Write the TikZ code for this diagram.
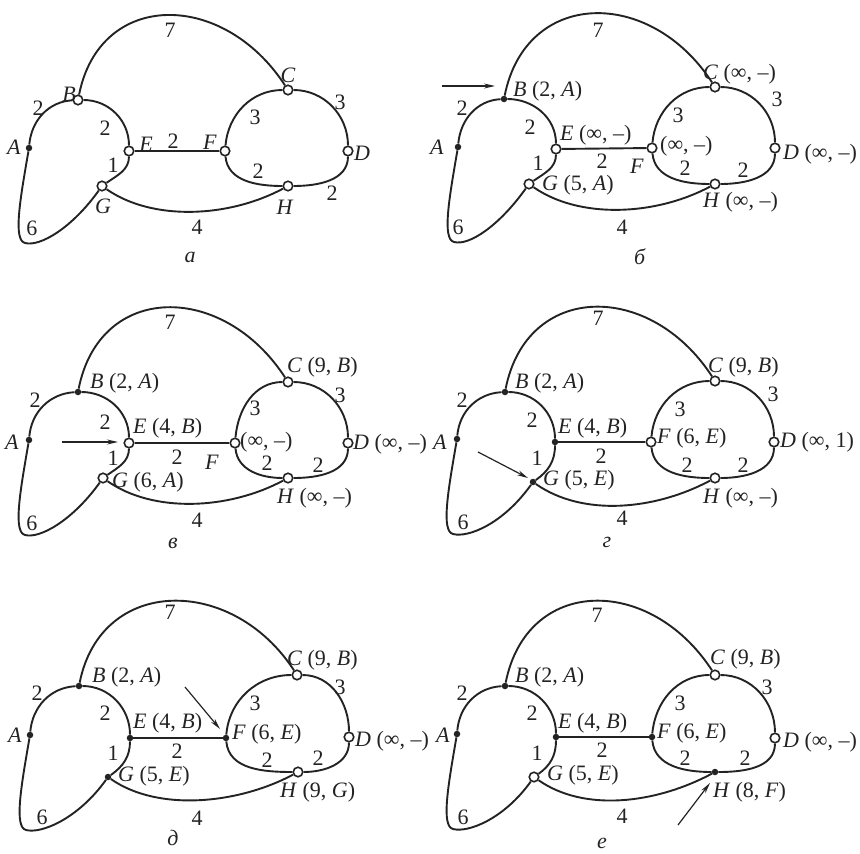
\documentclass[tikz,border=0pt]{standalone}
\usepackage{fontspec}
\setmainfont{Liberation Serif}
\usetikzlibrary{calc,arrows.meta}
\definecolor{ink}{HTML}{232323}
\newcount\labn
\newcommand\lab[2]{\global\advance\labn by 1\relax\node[lb] (L\the\labn) at (#1) {#2};}
\newcommand\labw[2]{\global\advance\labn by 1\relax\node[lb,anchor=west] (L\the\labn) at (#1) {#2};}
\newcommand\It[1]{\textit{#1}}
\newcommand\infsym{∞}
\newcommand\grEdges[1]{%
  \draw[ed] (#1A) to[out=85,in=183] (#1B);
  \draw[ed] (#1B) to[out=0,in=90] (#1E);
  \draw[ed] (#1E) to[out=-90,in=35] (#1G);
  \draw[ed] (#1E) -- (#1F);
  \draw[ed] (#1F) to[out=85,in=180] (#1C);
  \draw[ed] (#1C) to[out=0,in=90] (#1D);
  \draw[ed] (#1F) to[out=-85,in=180] (#1H);
  \draw[ed] (#1H) to[out=0,in=-90] (#1D);
  \draw[ed] (#1B) .. controls +(22,110) and +(-65,100) .. (#1C);
  \draw[ed] (#1G) .. controls +(50,-35) and +(-60,-32) .. (#1H);
  \draw[ed] (#1A) .. controls +(-9,-52) and +(-12,3) .. ($(#1A)+(-4,-95)$)
        .. controls +(15,-4) and +(-30,-42) .. (#1G);
}
\tikzset{
  ed/.style={line width=1.9pt, draw=ink},
  vo/.style={circle, draw=ink, fill=white, line width=1.6pt, inner sep=0pt, minimum size=9.5pt},
  vf/.style={circle, fill=ink, inner sep=0pt, minimum size=6.5pt},
  lb/.style={font=\fontsize{22}{26}\selectfont, inner sep=0pt, text=ink},
  ar/.style={line width=1.2pt, draw=ink, -{Stealth[length=11pt,width=5pt]}},
}
\begin{document}
\begin{tikzpicture}[x=1pt,y=1pt]
\fill[white] (0,0) rectangle (860,-854);
\useasboundingbox (0,0) rectangle (860,-854);

% ---------- panel a ----------
\node[vf] (paA) at (29,-148) {};
\node[vo] (paB) at (78,-100) {};
\node[vo] (paE) at (129,-151) {};
\node[vo] (paG) at (102,-186) {};
\node[vo] (paF) at (225,-151) {};
\node[vo] (paC) at (288,-90) {};
\node[vo] (paD) at (348,-151) {};
\node[vo] (paH) at (288,-186) {};
\grEdges{pa}
\lab{170,-30}{7}
\lab{38,-108}{2}
\lab{14,-147}{\It{A}}
\lab{69,-94}{\It{B}}
\lab{105,-128}{2}
\lab{146,-144}{\It{E}}
\lab{173,-141}{2}
\lab{210,-142}{\It{F}}
\lab{113,-165}{1}
\lab{103,-206}{\It{G}}
\lab{255,-117}{3}
\lab{288,-75}{\It{C}}
\lab{340,-102}{3}
\lab{362,-153}{\It{D}}
\lab{258,-171}{2}
\lab{285,-207}{\It{H}}
\lab{332,-193}{2}
\lab{32,-228}{6}
\lab{197,-227}{4}
\lab{190,-257}{\It{а}}

% ---------- panel b ----------
\node[vf] (pbA) at (458,-147) {};
\node[vf] (pbB) at (504,-99) {};
\node[vo] (pbE) at (556,-149) {};
\node[vo] (pbG) at (529,-184) {};
\node[vo] (pbF) at (652,-148) {};
\node[vo] (pbC) at (715,-87) {};
\node[vo] (pbD) at (775,-148) {};
\node[vo] (pbH) at (715,-184) {};
\grEdges{pb}
\lab{598,-30}{7}
\lab{462,-108}{2}
\lab{437,-147}{\It{A}}
\labw{513,-91}{\It{B} (2, \It{A})}
\lab{530,-127}{2}
\labw{560,-135}{\It{E} (\infsym, –)}
\lab{538,-163}{1}
\lab{602,-161}{2}
\lab{637,-166}{\It{F}}
\labw{660,-146}{(\infsym, –)}
\labw{703,-74}{\It{C} (\infsym, –)}
\lab{678,-115}{3}
\lab{777,-99}{3}
\labw{783,-154}{\It{D} (\infsym, –)}
\lab{685,-168}{2}
\lab{743,-170}{2}
\labw{542,-185}{\It{G} (5, \It{A})}
\labw{703,-202}{\It{H} (\infsym, –)}
\lab{458,-227}{6}
\lab{622,-227}{4}
\lab{640,-257}{\It{б}}
\coordinate (pbs) at (442,-86);
\coordinate (pbt) at (495,-86);
\draw[ar] (pbs) -- (pbt);

% ---------- panel v ----------
\node[vf] (pcA) at (29,-440) {};
\node[vf] (pcB) at (78,-392) {};
\node[vo] (pcE) at (129,-443) {};
\node[vo] (pcG) at (103,-478) {};
\node[vo] (pcF) at (235,-443) {};
\node[vo] (pcC) at (288,-382) {};
\node[vo] (pcD) at (348,-443) {};
\node[vo] (pcH) at (288,-478) {};
\grEdges{pc}
\lab{170,-322}{7}
\lab{35,-400}{2}
\lab{12,-442}{\It{A}}
\labw{90,-383}{\It{B} (2, \It{A})}
\lab{105,-422}{2}
\labw{133,-428}{\It{E} (4, \It{B})}
\lab{113,-458}{1}
\lab{177,-457}{2}
\lab{212,-462}{\It{F}}
\labw{240,-442}{(\infsym, –)}
\labw{287,-367}{\It{C} (9, \It{B})}
\lab{255,-408}{3}
\lab{340,-395}{3}
\labw{353,-444}{\It{D} (\infsym, –)}
\lab{267,-463}{2}
\lab{318,-465}{2}
\labw{112,-482}{\It{G} (6, \It{A})}
\labw{277,-498}{\It{H} (\infsym, –)}
\lab{32,-523}{6}
\lab{197,-520}{4}
\lab{173,-543}{\It{в}}
\coordinate (pcs) at (62,-442);
\coordinate (pct) at (118,-442);
\draw[ar] (pcs) -- (pct);

% ---------- panel g ----------
\node[vf] (pdA) at (457,-439) {};
\node[vf] (pdB) at (505,-392) {};
\node[vf] (pdE) at (555,-442) {};
\node[vf] (pdG) at (533,-482) {};
\node[vo] (pdF) at (651,-442) {};
\node[vo] (pdC) at (715,-381) {};
\node[vo] (pdD) at (774,-442) {};
\node[vo] (pdH) at (715,-478) {};
\grEdges{pd}
\lab{598,-318}{7}
\lab{462,-400}{2}
\lab{440,-442}{\It{A}}
\labw{515,-383}{\It{B} (2, \It{A})}
\lab{532,-420}{2}
\labw{558,-428}{\It{E} (4, \It{B})}
\lab{537,-458}{1}
\lab{601,-456}{2}
\labw{657,-438}{\It{F} (6, \It{E})}
\lab{680,-409}{3}
\labw{708,-367}{\It{C} (9, \It{B})}
\lab{773,-394}{3}
\labw{780,-442}{\It{D} (\infsym, 1)}
\lab{687,-465}{2}
\lab{743,-465}{2}
\labw{543,-480}{\It{G} (5, \It{E})}
\labw{703,-498}{\It{H} (\infsym, –)}
\lab{463,-522}{6}
\lab{622,-518}{4}
\lab{607,-542}{\It{г}}
\coordinate (pds) at (478,-452);
\coordinate (pdt) at (528,-478);
\draw[ar] (pds) -- (pdt);

% ---------- panel d ----------
\node[vf] (peA) at (30,-735) {};
\node[vf] (peB) at (79,-686) {};
\node[vf] (peE) at (130,-738) {};
\node[vf] (peG) at (108,-777) {};
\node[vf] (peF) at (226,-738) {};
\node[vo] (peC) at (297,-675) {};
\node[vo] (peD) at (349,-737) {};
\node[vo] (peH) at (298,-772) {};
\grEdges{pe}
\lab{170,-612}{7}
\lab{37,-693}{2}
\lab{15,-735}{\It{A}}
\labw{92,-677}{\It{B} (2, \It{A})}
\lab{105,-713}{2}
\labw{133,-723}{\It{E} (4, \It{B})}
\lab{113,-753}{1}
\lab{177,-751}{2}
\labw{232,-734}{\It{F} (6, \It{E})}
\lab{255,-703}{3}
\labw{287,-660}{\It{C} (9, \It{B})}
\lab{340,-687}{3}
\labw{355,-741}{\It{D} (\infsym, –)}
\lab{267,-760}{2}
\lab{318,-758}{2}
\labw{118,-776}{\It{G} (5, \It{E})}
\labw{280,-792}{\It{H} (9, \It{G})}
\lab{42,-817}{6}
\lab{197,-818}{4}
\lab{173,-838}{\It{д}}
\coordinate (pes) at (185,-687);
\coordinate (pet) at (220,-729);
\draw[ar] (pes) -- (pet);

% ---------- panel e ----------
\node[vf] (pfA) at (457,-734) {};
\node[vf] (pfB) at (505,-686) {};
\node[vf] (pfE) at (556,-737) {};
\node[vo] (pfG) at (534,-777) {};
\node[vf] (pfF) at (652,-737) {};
\node[vo] (pfC) at (715,-675) {};
\node[vo] (pfD) at (775,-738) {};
\node[vf] (pfH) at (715,-772) {};
\grEdges{pf}
\lab{597,-615}{7}
\lab{462,-693}{2}
\lab{443,-735}{\It{A}}
\labw{515,-677}{\It{B} (2, \It{A})}
\lab{532,-713}{2}
\labw{558,-723}{\It{E} (4, \It{B})}
\lab{537,-753}{1}
\lab{602,-750}{2}
\labw{657,-733}{\It{F} (6, \It{E})}
\lab{680,-703}{3}
\labw{710,-659}{\It{C} (9, \It{B})}
\lab{767,-687}{3}
\labw{783,-742}{\It{D} (\infsym, –)}
\lab{685,-758}{2}
\lab{745,-758}{2}
\labw{547,-775}{\It{G} (5, \It{E})}
\labw{713,-792}{\It{H} (8, \It{F})}
\lab{463,-817}{6}
\lab{622,-816}{4}
\lab{602,-843}{\It{е}}
\coordinate (pfs) at (678,-825);
\coordinate (pft) at (710,-783);
\draw[ar] (pfs) -- (pft);
\end{tikzpicture}
\end{document}
